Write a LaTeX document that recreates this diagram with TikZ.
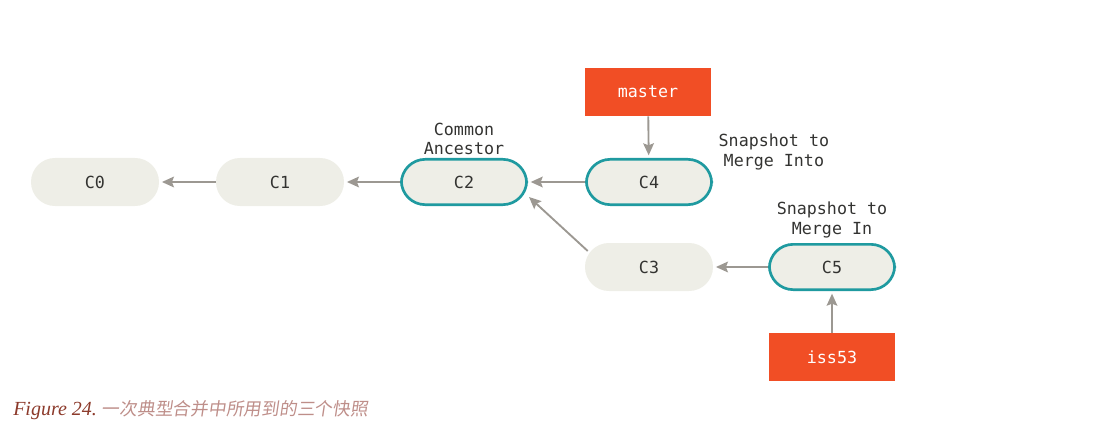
\documentclass[tikz,border=0pt]{standalone}
\usepackage{fontspec}
\usepackage{xcolor}
\setmonofont{DejaVu Sans Mono}
\newfontfamily\capfont{Liberation Serif}
\newfontfamily\cjkfont[FakeSlant=0.15]{Noto Sans CJK SC}
\usetikzlibrary{arrows.meta}
\definecolor{commitfill}{HTML}{EEEEE7}
\definecolor{snapborder}{HTML}{1F9AA0}
\definecolor{branchfill}{HTML}{F14E25}
\definecolor{linkgray}{HTML}{9C9892}
\definecolor{textgray}{HTML}{333331}
\definecolor{capred}{HTML}{8C3A2B}
\definecolor{cappink}{HTML}{BE8E89}
\tikzset{
  % commits
  commit/.style = {
    rectangle,
    rounded corners=17.9pt,
    fill=commitfill,
    minimum width=96pt,
    minimum height=36pt,
    font=\ttfamily\fontsize{12.5}{14}\selectfont,
    text=textgray,
  },
  % highlighted snapshot
  snapshot/.style = {
    commit,
    draw=snapborder,
    line width=2pt,
    minimum width=94pt,
    minimum height=34pt,
  },
  % branch pointers
  branch/.style = {
    rectangle,
    fill=branchfill,
    minimum width=94pt,
    minimum height=36pt,
    font=\ttfamily\fontsize{12.5}{14}\selectfont,
    text=white,
  },
  % side labels
  note/.style = {
    align=center,
    font=\ttfamily\fontsize{12.5}{14.5}\selectfont,
    text=textgray,
  },
  % parent links
  parent/.style = {
    draw=linkgray,
    line width=1.4pt,
    -{Stealth[length=9pt,width=8pt,inset=1.5pt]},
    shorten >=2pt,
  },
}
\begin{document}
\begin{tikzpicture}[x=0.75pt,y=-0.75pt]
  \useasboundingbox (0,0) rectangle (1101,435);
  % commits
  \node[commit]   (c0) at (95,182)  {C0};
  \node[commit]   (c1) at (280,182) {C1};
  \node[snapshot] (c2) at (464,182) {C2};
  \node[snapshot] (c4) at (649,182) {C4};
  \node[commit]   (c3) at (649,267) {C3};
  \node[snapshot] (c5) at (832,267) {C5};
  % branches
  \node[branch] (master) at (648,92)  {master};
  \node[branch] (iss53)  at (832,357) {iss53};
  % labels
  \node[note] (ancestor) at (464,139) {Common\\Ancestor};
  \node[note, anchor=west] (into) at (714,152) {Snapshot to\\Merge Into};
  \node[note] (in) at (832,220) {Snapshot to\\Merge In};
  % links
  \draw[parent] (c1) -- (c0);
  \draw[parent] (c2) -- (c1);
  \draw[parent] (c4) -- (c2);
  \coordinate (c3out) at ([shift={(3,-16)}]c3.west);
  \coordinate (c2in) at ([shift={(1,15)}]c2.east);
  \draw[parent, shorten >=0pt] (c3out) -- (c2in);
  \draw[parent] (c5) -- (c3);
  \draw[parent] (master) -- (c4);
  \draw[parent] (iss53) -- (c5);
  % caption
  \node[anchor=west, inner sep=0pt] (caption) at (13,410)
    {\capfont\itshape\fontsize{15}{17}\selectfont\color{capred}Figure 24.\ %
     \cjkfont\fontsize{13.3}{17}\selectfont\color{cappink}一次典型合并中所用到的三个快照};
\end{tikzpicture}
\end{document}
